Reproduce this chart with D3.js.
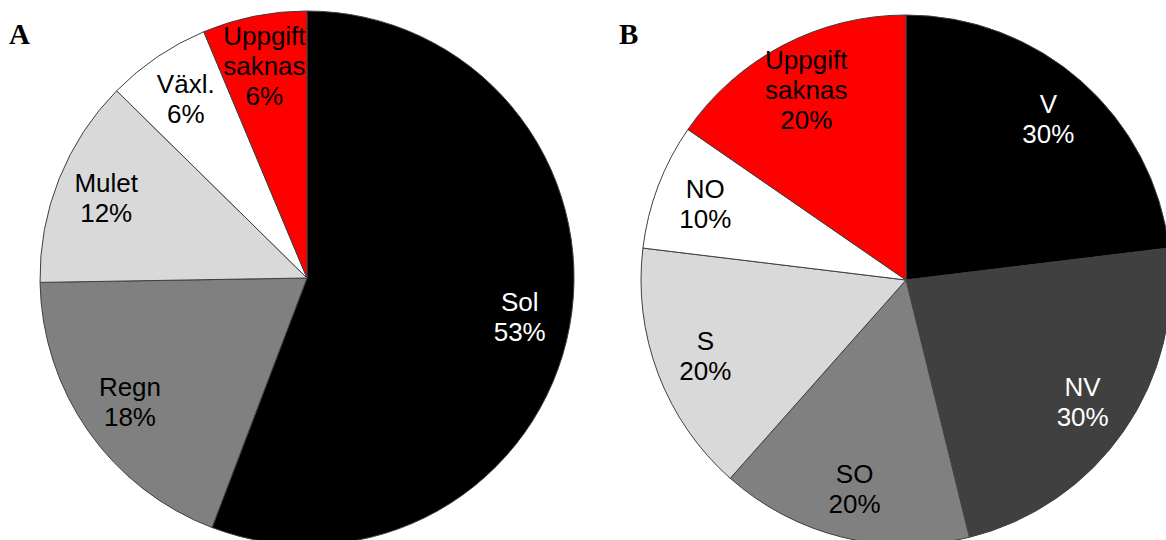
<!DOCTYPE html>
<html>
<head>
<meta charset="utf-8">
<script src="https://cdn.jsdelivr.net/npm/d3@7"></script>
<style>
  html, body { margin: 0; padding: 0; background: #fff; }
  svg { display: block; }
</style>
</head>
<body>
<svg id="chart" width="1166" height="540"></svg>
<script>
// Panel A: weather
const weatherLabels = ["Sol", "Regn", "Mulet", "Växl.", "Uppgift saknas"];
const weatherValues = [53, 18, 12, 6, 6];
const weatherColors = ["#000000", "#808080", "#d9d9d9", "#ffffff", "#ff0000"];
const weatherText   = ["#ffffff", "#000000", "#000000", "#000000", "#000000"];

// Panel B: wind direction
const windLabels = ["V", "NV", "SO", "S", "NO", "Uppgift saknas"];
const windValues = [30, 30, 20, 20, 10, 20];
const windColors = ["#000000", "#404040", "#808080", "#d9d9d9", "#ffffff", "#ff0000"];
const windText   = ["#ffffff", "#ffffff", "#000000", "#000000", "#000000", "#000000"];

const svg = d3.select("#chart");

function drawPie(opts) {
  const g = svg.append("g").attr("transform", `translate(${opts.cx},${opts.cy})`);
  const data = opts.labels.map((l, i) => ({ label: l, value: opts.values[i], fill: opts.colors[i], text: opts.text[i] }));
  const pie = d3.pie().sort(null).value(d => d.value).startAngle(0).endAngle(2 * Math.PI);
  const arcs = pie(data);
  const arc = d3.arc().innerRadius(0).outerRadius(opts.r);
  const labelArc = d3.arc().innerRadius(opts.r * 0.81).outerRadius(opts.r * 0.81);

  g.selectAll("path.slice")
    .data(arcs)
    .join("path")
    .attr("class", "slice")
    .attr("d", arc)
    .attr("fill", d => d.data.fill)
    .attr("stroke", "#404040")
    .attr("stroke-width", 1)
    .attr("stroke-linejoin", "round");

  const lh = 30;
  const labels = g.selectAll("text.lbl")
    .data(arcs)
    .join("text")
    .attr("class", "lbl")
    .attr("transform", d => `translate(${labelArc.centroid(d)})`)
    .attr("text-anchor", "middle")
    .attr("font-family", "Liberation Sans, Arial, sans-serif")
    .attr("font-size", 26)
    .attr("fill", d => d.data.text);

  labels.each(function (d) {
    const lines = d.data.label.split(" ").concat([d.data.value + "%"]);
    const t = d3.select(this);
    const y0 = -((lines.length - 1) * lh) / 2;
    lines.forEach((s, i) => {
      t.append("tspan")
        .attr("x", 0)
        .attr("y", y0 + i * lh)
        .attr("dy", "0.35em")
        .text(s);
    });
  });
}

drawPie({ cx: 307, cy: 278, r: 267, labels: weatherLabels, values: weatherValues, colors: weatherColors, text: weatherText });
drawPie({ cx: 906, cy: 280, r: 265, labels: windLabels, values: windValues, colors: windColors, text: windText });

// Panel letters
svg.append("text").attr("x", 9).attr("y", 44)
  .attr("font-family", "Liberation Serif, Times New Roman, serif")
  .attr("font-weight", "bold").attr("font-size", 29).text("A");
svg.append("text").attr("x", 619).attr("y", 44)
  .attr("font-family", "Liberation Serif, Times New Roman, serif")
  .attr("font-weight", "bold").attr("font-size", 29).text("B");
</script>
</body>
</html>
